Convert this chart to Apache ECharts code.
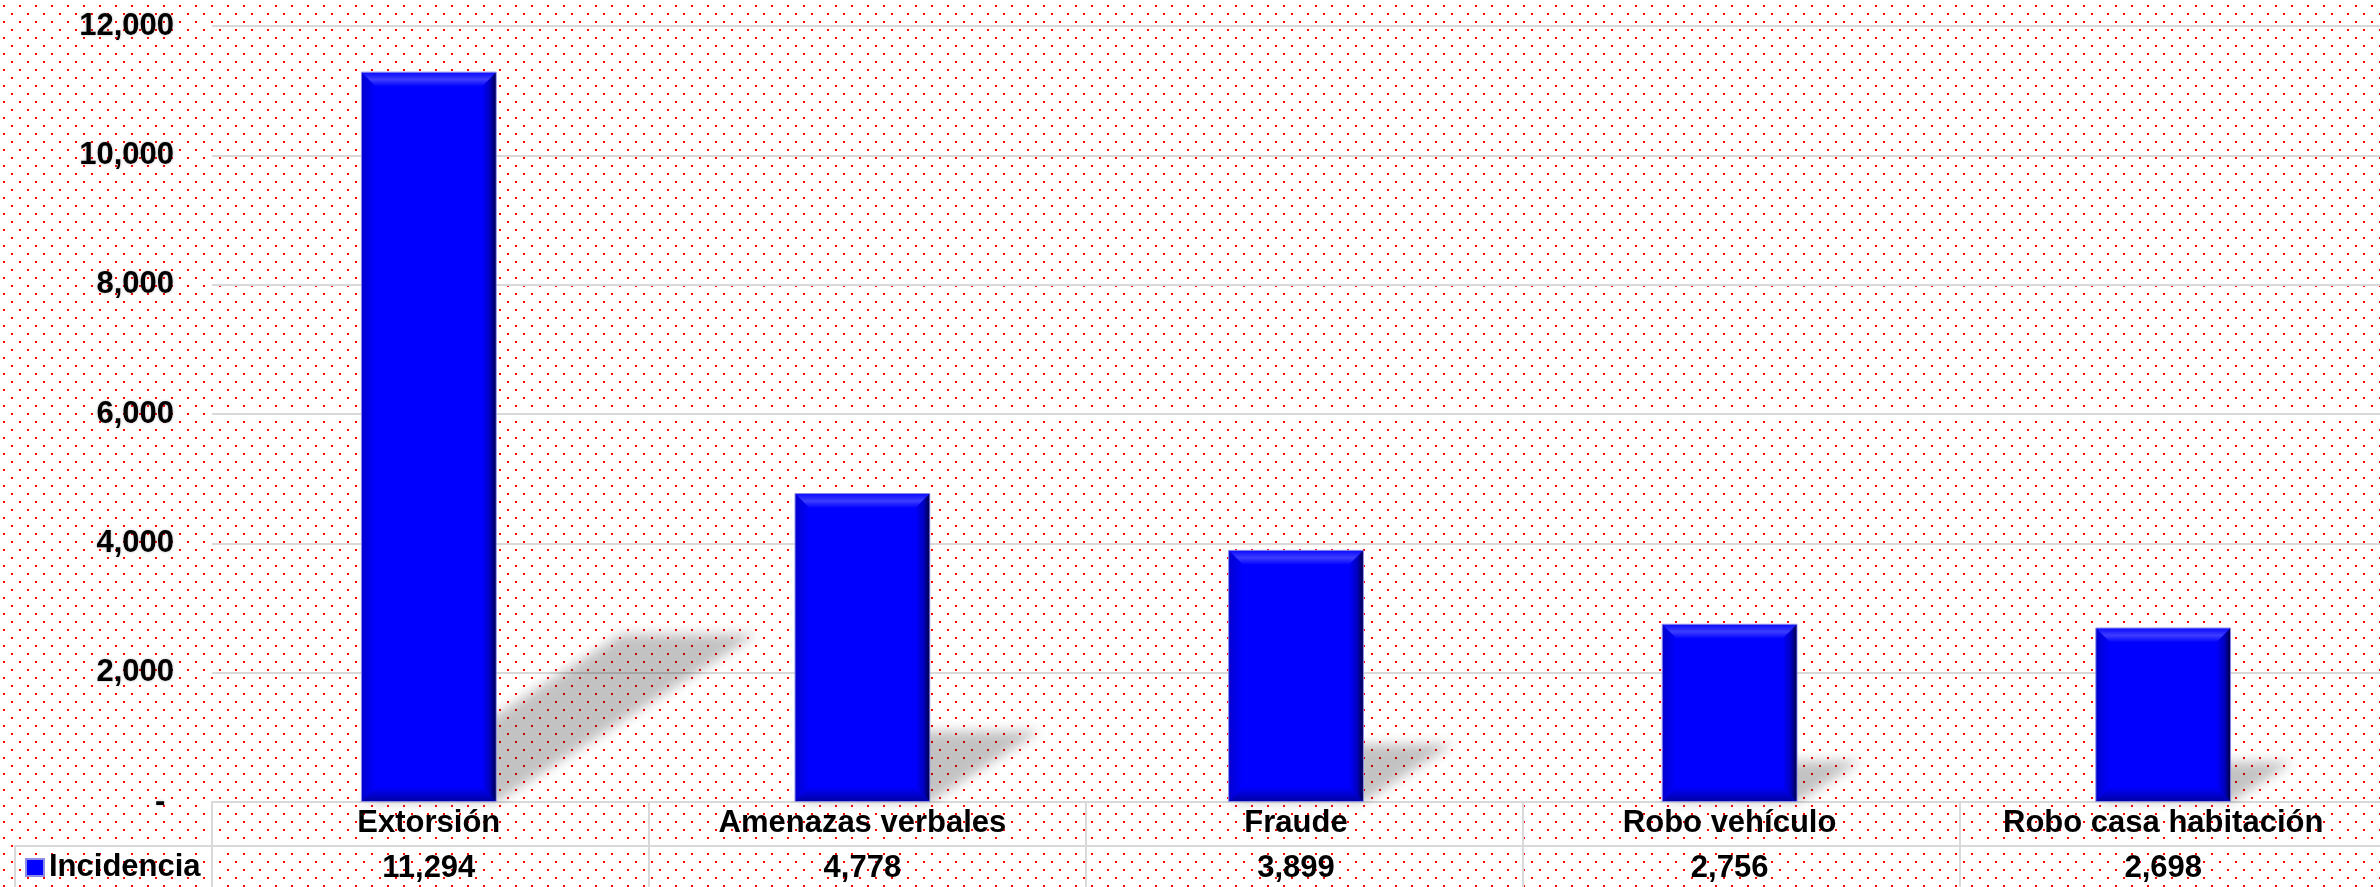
<!DOCTYPE html>
<html lang="es" style="height: 100%">
<head>
  <meta charset="utf-8">
</head>
<body style="height: 100%; margin: 0">
  <div id="container" style="width: 2380px; height: 887px"></div>
  <script src="https://cdn.jsdelivr.net/npm/echarts@6/dist/echarts.min.js"></script>
  <script>
    // data
    const categories = ['Extorsión', 'Amenazas verbales', 'Fraude', 'Robo vehículo', 'Robo casa habitación'];
    const incidencia = [11294, 4778, 3899, 2756, 2698];
    const seriesName = 'Incidencia';

    const fmt = v => v.toLocaleString('en-US');

    // grid geometry (plot spills a little past the right edge like the original)
    const GRID_LEFT = 212, GRID_TOP = 26, GRID_W = 2185, GRID_H = 776;
    const BASE_Y = GRID_TOP + GRID_H;
    const FONT = '"Liberation Sans", Arial, sans-serif';
    const BAR_FRAC = 0.313;

    // dotted red background
    const pat = document.createElement('canvas');
    pat.width = 16; pat.height = 16;
    const pc = pat.getContext('2d');
    pc.fillStyle = '#fff'; pc.fillRect(0, 0, 16, 16);
    pc.fillStyle = '#ff0000';
    pc.fillRect(3, 5, 2, 2);
    pc.fillRect(11, 13, 2, 2);

    const dom = document.getElementById('container');
    const myChart = echarts.init(dom, null, { renderer: 'canvas' });

    // data-table lines (decoration only)
    const lineStyle = { stroke: '#d9d9d9', lineWidth: 2 };
    const colW = GRID_W / categories.length;
    const tableLines = [
      { type: 'line', shape: { x1: 14, y1: 846, x2: 2380, y2: 846 }, style: lineStyle },
      { type: 'line', shape: { x1: 15, y1: 846, x2: 15, y2: 887 }, style: lineStyle }
    ];
    for (let k = 0; k <= categories.length; k++) {
      const x = Math.round(GRID_LEFT + k * colW);
      tableLines.push({ type: 'line', shape: { x1: x, y1: BASE_Y, x2: x, y2: 887 }, style: lineStyle });
    }

    function barBox(api) {
      const i = api.value(0), v = api.value(1);
      const top = api.coord([i, v]);
      const base = api.coord([i, 0]);
      const w = api.size([1, 0])[0] * BAR_FRAC;
      return { l: base[0] - w / 2, r: base[0] + w / 2, t: top[1], b: base[1] };
    }

    function grad(horizontal, stops) {
      return {
        type: 'linear', x: 0, y: 0, x2: horizontal ? 1 : 0, y2: horizontal ? 0 : 1,
        colorStops: stops.map(s => ({ offset: s[0], color: s[1] }))
      };
    }

    const OFF = 4000; // draw shadow shape off-canvas, keep only its blur
    const layerData = incidencia.map((v, i) => [i, v]);

    const option = {
      backgroundColor: { image: pat, repeat: 'repeat' },
      animation: false,
      grid: { left: GRID_LEFT, top: GRID_TOP, width: GRID_W, height: GRID_H },
      legend: {
        data: [seriesName],
        left: 25, top: 852, padding: 0,
        icon: 'rect', itemWidth: 18, itemHeight: 17,
        textStyle: { fontFamily: FONT, fontWeight: 'bold', fontSize: 31, color: '#000' }
      },
      xAxis: [
        {
          type: 'category', data: categories, position: 'bottom',
          axisLine: { lineStyle: { color: '#d9d9d9', width: 2 } },
          axisTick: { show: false },
          axisLabel: { interval: 0, margin: 6, color: '#000', fontFamily: FONT, fontWeight: 'bold', fontSize: 31 }
        },
        {
          type: 'category', data: incidencia.map(fmt), position: 'bottom', offset: 45,
          axisLine: { show: false }, axisTick: { show: false },
          axisLabel: { interval: 0, margin: 6, color: '#000', fontFamily: FONT, fontWeight: 'bold', fontSize: 31 }
        }
      ],
      yAxis: {
        type: 'value', min: 0, max: 12000, interval: 2000,
        axisLine: { show: false }, axisTick: { show: false },
        splitLine: { lineStyle: { color: '#d9d9d9', width: 2 } },
        axisLabel: {
          margin: 38, color: '#000', fontFamily: FONT, fontWeight: 'bold', fontSize: 31,
          textShadowColor: 'rgba(0,0,0,0.25)', textShadowBlur: 3,
          formatter: v => (v === 0 ? '- ' : fmt(v))
        }
      },
      series: [
        {
          // perspective shadow behind each bar
          type: 'custom',
          name: 'shadow',
          z: 1,
          silent: true,
          clip: false,
          data: layerData,
          encode: { x: 0, y: 1 },
          renderItem: function (params, api) {
            const bb = barBox(api);
            const h = bb.b - bb.t;
            const dx = h * 0.357, dy = h * 0.23;
            const pts = [[bb.l, bb.b], [bb.r, bb.b], [bb.r + dx, bb.b - dy], [bb.l + dx, bb.b - dy]]
              .map(p => [p[0] - OFF, p[1]]);
            return {
              type: 'polygon',
              shape: { points: pts },
              style: {
                fill: '#000',
                shadowBlur: 12,
                shadowOffsetX: OFF,
                shadowColor: 'rgba(0,0,0,0.24)'
              }
            };
          }
        },
        {
          type: 'bar',
          name: seriesName,
          z: 3,
          barWidth: (BAR_FRAC * 100) + '%',
          data: incidencia,
          itemStyle: { color: '#0000ff', borderColor: '#8c8ce6', borderWidth: 1 }
        },
        {
          // bevel on the bars
          type: 'custom',
          name: 'bevel',
          z: 4,
          silent: true,
          data: layerData,
          encode: { x: 0, y: 1 },
          renderItem: function (params, api) {
            const bb = barBox(api);
            const l = bb.l + 1, r = bb.r - 1, t = bb.t + 1, b = bb.b - 1;
            const e = Math.min(14, (b - t) / 2);
            return {
              type: 'group',
              children: [
                {
                  type: 'polygon',
                  shape: { points: [[l, t], [r, t], [r - e, t + e], [l + e, t + e]] },
                  style: { fill: grad(false, [[0, 'rgba(255,255,255,0.05)'], [0.5, 'rgba(255,255,255,0.24)'], [1, 'rgba(255,255,255,0)']]) }
                },
                {
                  type: 'polygon',
                  shape: { points: [[r, t], [r, b], [r - e, b - e], [r - e, t + e]] },
                  style: { fill: grad(true, [[0, 'rgba(0,0,0,0)'], [0.6, 'rgba(0,0,0,0.25)'], [1, 'rgba(0,0,0,0.7)']]) }
                },
                {
                  type: 'polygon',
                  shape: { points: [[l + e, b - e], [r - e, b - e], [r, b], [l, b]] },
                  style: { fill: grad(false, [[0, 'rgba(0,0,0,0)'], [1, 'rgba(0,0,0,0.35)']]) }
                },
                {
                  type: 'polygon',
                  shape: { points: [[l, t], [l + e, t + e], [l + e, b - e], [l, b]] },
                  style: { fill: grad(true, [[0, 'rgba(0,0,0,0.18)'], [1, 'rgba(0,0,0,0)']]) }
                }
              ]
            };
          }
        }
      ],
      graphic: tableLines
    };

    myChart.setOption(option);
    window.addEventListener('resize', myChart.resize);
  </script>
</body>
</html>
